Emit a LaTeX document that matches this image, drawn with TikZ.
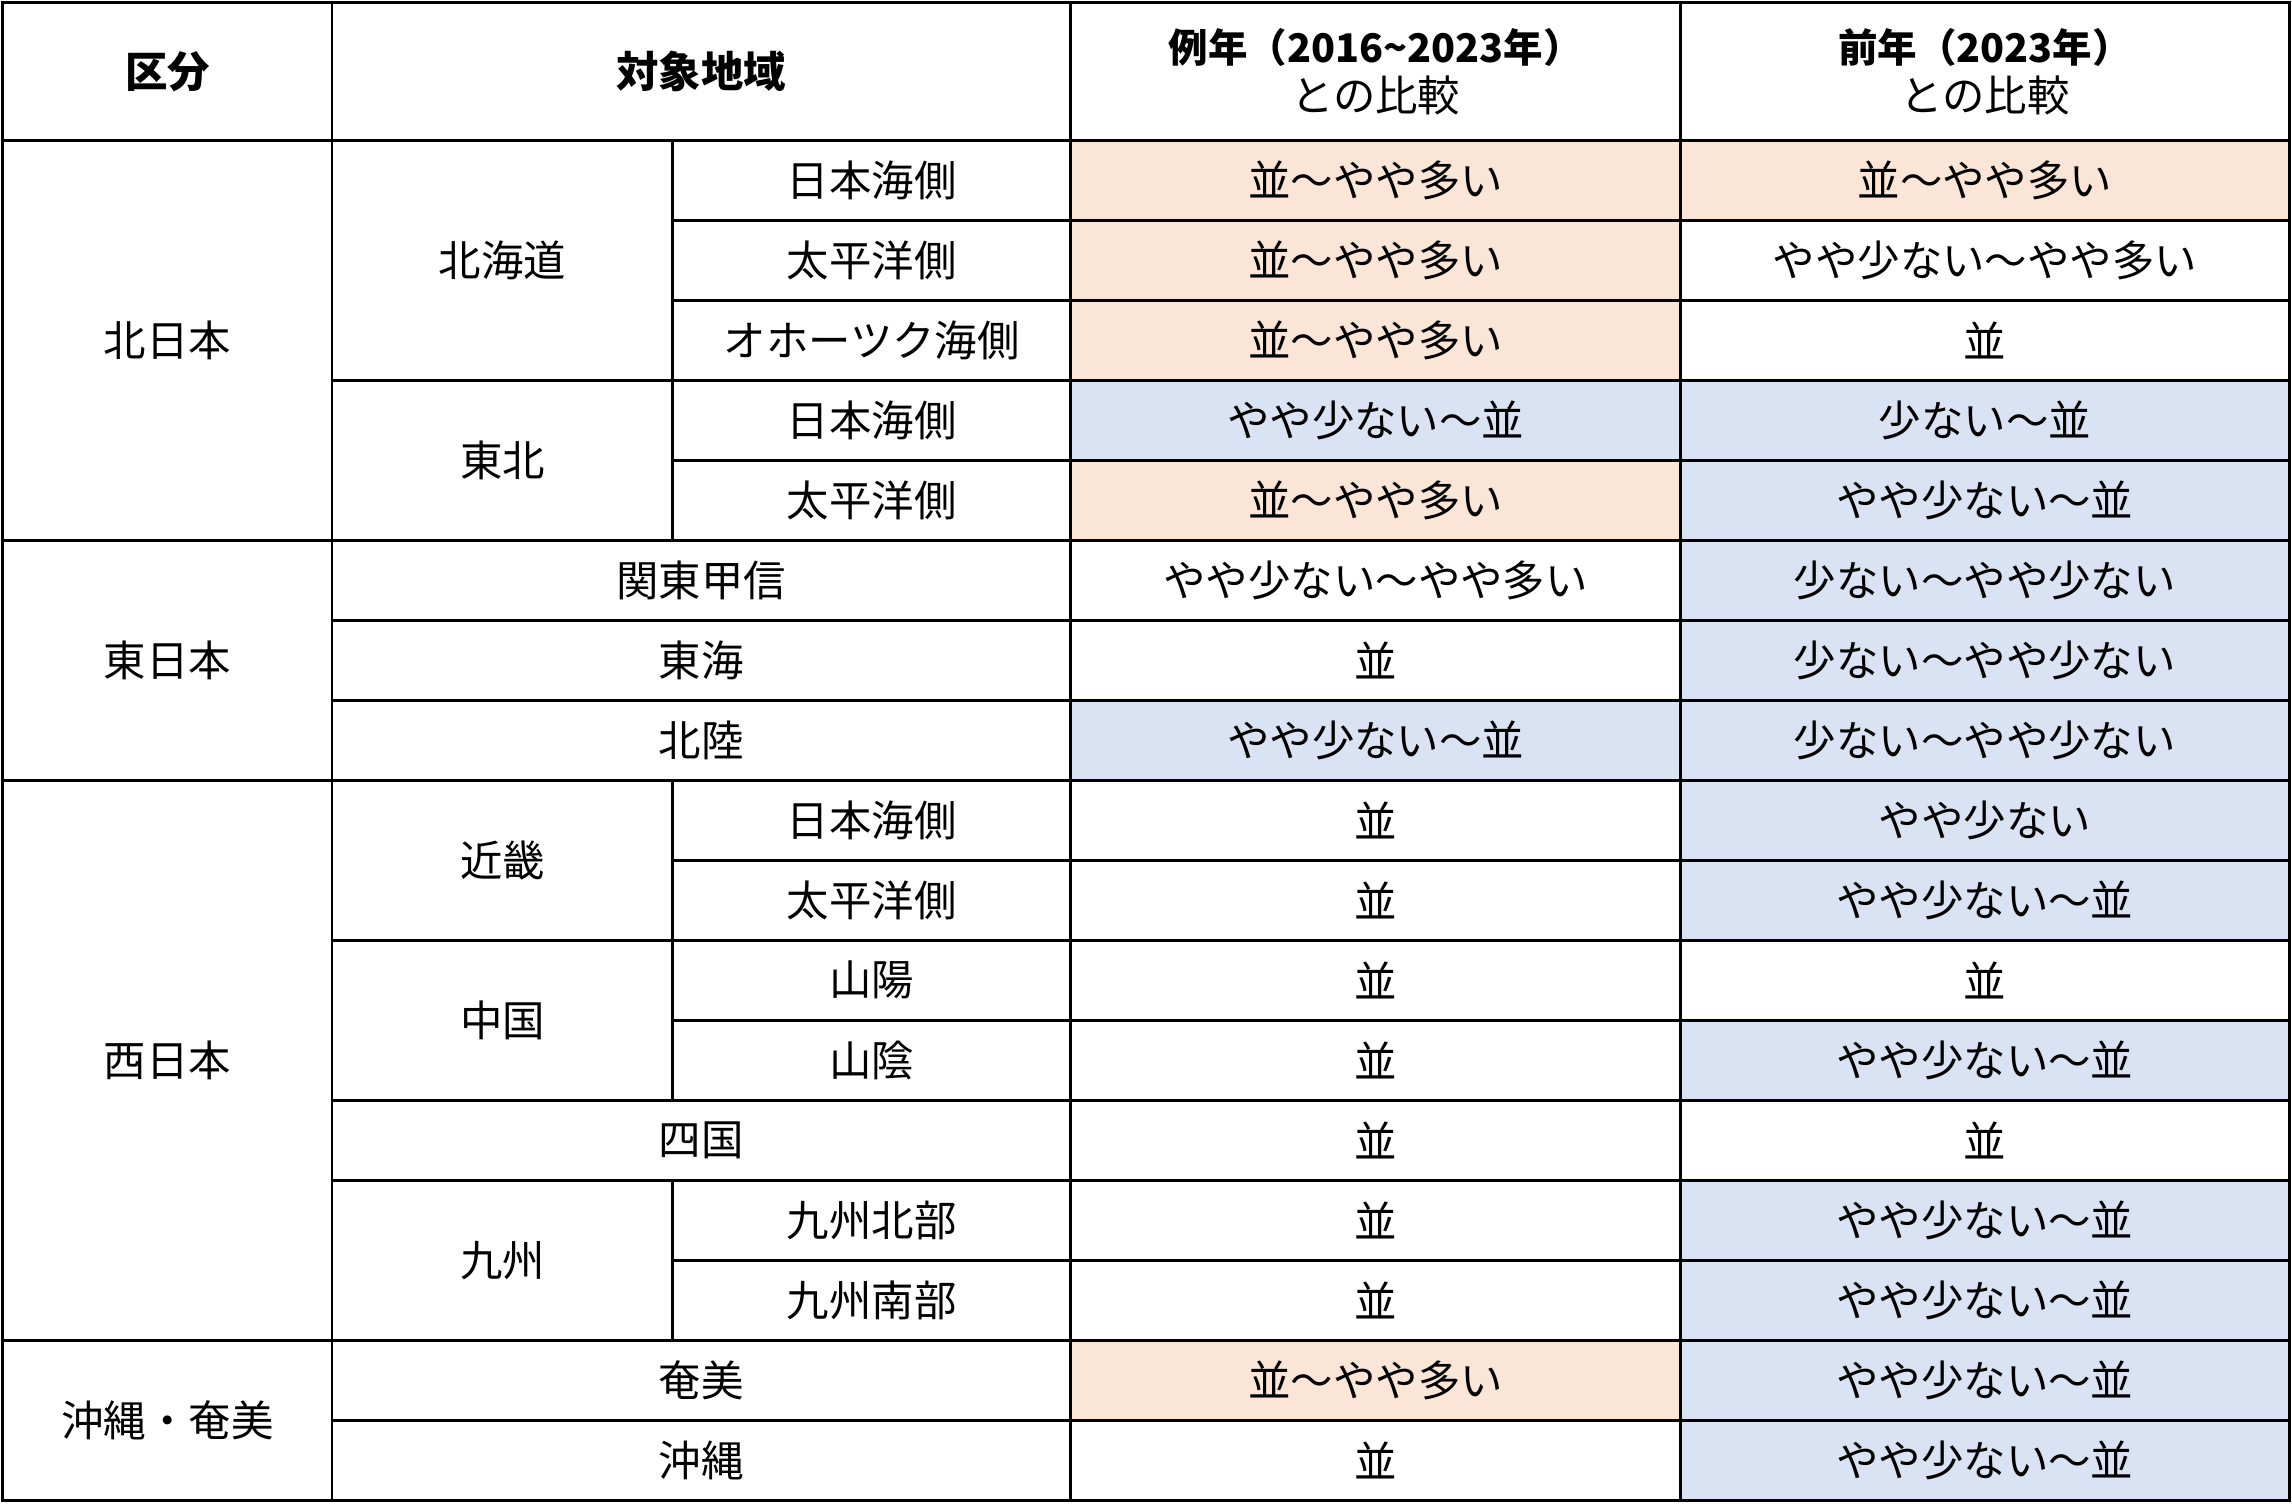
\documentclass[tikz,border=0pt]{standalone}
\usepackage{fontspec}
\setmainfont{Noto Sans CJK JP}
\definecolor{oc}{HTML}{FBE5D6}
\definecolor{bc}{HTML}{DAE3F3}
\begin{document}
\begin{tikzpicture}[x=1pt,y=1pt,
  cellst/.style={draw=black,line width=2pt,inner sep=0pt,align=center,font=\fontsize{29}{34}\selectfont},
  hd/.style={font=\fontsize{27}{36}\selectfont\bfseries}]
\useasboundingbox[fill=white] (0,0) rectangle (1567,-1027.6);
\newcommand\tcell[7]{%
 \pgfmathsetmacro\ya{#4==0?2:95.9+(#4-1)*54.69}%
 \pgfmathsetmacro\yb{95.9+(#5-1)*54.69}%
 \pgfmathsetmacro\ww{#3-#2}\pgfmathsetmacro\hh{\yb-\ya}%
 \node[cellst,fill=#6,minimum width=\ww pt,minimum height=\hh pt] (#1) at ({(#2+#3)/2},{-(\ya+\yb)/2}) {#7};}
% header
\tcell{h1}{2}{227}{0}{1}{white}{\textbf{区分}}
\tcell{h2}{227}{732}{0}{1}{white}{\textbf{対象地域}}
\tcell{h3}{732}{1149}{0}{1}{white}{\fontsize{27}{36}\selectfont\bfseries 例年（2016\textasciitilde2023年）\\との比較}
\tcell{h4}{1149}{1565}{0}{1}{white}{\fontsize{27}{36}\selectfont\bfseries 前年（2023年）\\との比較}
% column 1
\tcell{k1}{2}{227}{1}{6}{white}{北日本}
\tcell{k2}{2}{227}{6}{9}{white}{東日本}
\tcell{k3}{2}{227}{9}{16}{white}{西日本}
\tcell{k4}{2}{227}{16}{18}{white}{沖縄・奄美}
% regions
\tcell{a1}{227}{460}{1}{4}{white}{北海道}
\tcell{b1}{460}{732}{1}{2}{white}{日本海側}
\tcell{b2}{460}{732}{2}{3}{white}{太平洋側}
\tcell{b3}{460}{732}{3}{4}{white}{オホーツク海側}
\tcell{a2}{227}{460}{4}{6}{white}{東北}
\tcell{b4}{460}{732}{4}{5}{white}{日本海側}
\tcell{b5}{460}{732}{5}{6}{white}{太平洋側}
\tcell{b6}{227}{732}{6}{7}{white}{関東甲信}
\tcell{b7}{227}{732}{7}{8}{white}{東海}
\tcell{b8}{227}{732}{8}{9}{white}{北陸}
\tcell{a3}{227}{460}{9}{11}{white}{近畿}
\tcell{b9}{460}{732}{9}{10}{white}{日本海側}
\tcell{b10}{460}{732}{10}{11}{white}{太平洋側}
\tcell{a4}{227}{460}{11}{13}{white}{中国}
\tcell{b11}{460}{732}{11}{12}{white}{山陽}
\tcell{b12}{460}{732}{12}{13}{white}{山陰}
\tcell{b13}{227}{732}{13}{14}{white}{四国}
\tcell{a5}{227}{460}{14}{16}{white}{九州}
\tcell{b14}{460}{732}{14}{15}{white}{九州北部}
\tcell{b15}{460}{732}{15}{16}{white}{九州南部}
\tcell{b16}{227}{732}{16}{17}{white}{奄美}
\tcell{b17}{227}{732}{17}{18}{white}{沖縄}
% values
\newcommand\vrow[5]{\pgfmathtruncatemacro\nx{#1+1}%
 \tcell{c#1}{732}{1149}{#1}{\nx}{#2}{#3}\tcell{d#1}{1149}{1565}{#1}{\nx}{#4}{#5}}
\vrow{1}{oc}{並～やや多い}{oc}{並～やや多い}
\vrow{2}{oc}{並～やや多い}{white}{やや少ない～やや多い}
\vrow{3}{oc}{並～やや多い}{white}{並}
\vrow{4}{bc}{やや少ない～並}{bc}{少ない～並}
\vrow{5}{oc}{並～やや多い}{bc}{やや少ない～並}
\vrow{6}{white}{やや少ない～やや多い}{bc}{少ない～やや少ない}
\vrow{7}{white}{並}{bc}{少ない～やや少ない}
\vrow{8}{bc}{やや少ない～並}{bc}{少ない～やや少ない}
\vrow{9}{white}{並}{bc}{やや少ない}
\vrow{10}{white}{並}{bc}{やや少ない～並}
\vrow{11}{white}{並}{white}{並}
\vrow{12}{white}{並}{bc}{やや少ない～並}
\vrow{13}{white}{並}{white}{並}
\vrow{14}{white}{並}{bc}{やや少ない～並}
\vrow{15}{white}{並}{bc}{やや少ない～並}
\vrow{16}{oc}{並～やや多い}{bc}{やや少ない～並}
\vrow{17}{white}{並}{bc}{やや少ない～並}
\end{tikzpicture}
\end{document}
